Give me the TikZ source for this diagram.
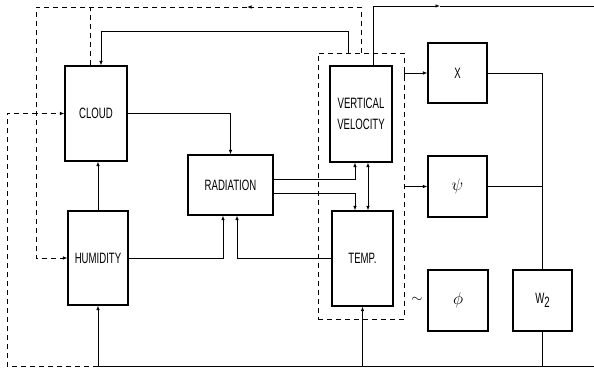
\documentclass[tikz,border=0pt]{standalone}
\usepackage{fontspec}
\newfontfamily\labelfont[FakeStretch=0.64]{Liberation Sans}
\usetikzlibrary{arrows.meta}

\begin{document}
\begin{tikzpicture}[x=1pt,y=-1pt,>={Latex[length=4.5pt,width=3.5pt]},
  blk/.style={draw,line width=1.1pt,inner sep=0pt,align=center,
    font=\labelfont\fontsize{15}{21}\selectfont},
  link/.style={line width=0.8pt},
  fbk/.style={line width=0.8pt,dash pattern=on 5pt off 4pt}]
 \useasboundingbox (0,0) rectangle (594,370);
 \node[blk,minimum width=62pt,minimum height=95pt] (cloud) at (96,113.5) {CLOUD};
 \node[blk,minimum width=60pt,minimum height=94pt] (humid) at (98,258) {HUMIDITY};
 \node[blk,minimum width=85pt,minimum height=60pt] (rad) at (230.5,185) {RADIATION};
 \node[blk,minimum width=62pt,minimum height=96pt] (vv) at (361,114) {VERTICAL\\VELOCITY};
 \node[blk,minimum width=61pt,minimum height=95pt] (temp) at (362.5,258.5) {TEMP.};
 \node[fbk,draw,inner sep=0pt,minimum width=86pt,minimum height=266pt] (grp) at (361,186) {};
 \node[blk,minimum width=59pt,minimum height=60pt] (chi) at (457.5,73) {X};
 \node[blk,minimum width=59pt,minimum height=61pt,font=\fontsize{17}{17}\selectfont] (psi) at (457.5,186.5) {$\psi$};
 \node[blk,minimum width=60pt,minimum height=61pt,font=\fontsize{17}{17}\selectfont] (phi) at (458,300.5) {$\phi$};
 \node[blk,minimum width=59pt,minimum height=61pt] (wtwo) at (542.5,300.5) {W\raisebox{-4pt}{2}};
 \node[font=\Large] (tilde) at (417,300) {$\sim$};
 \coordinate (tr) at (594,6);
 \coordinate (smid) at (440,6);
 \coordinate (br) at (594,366);
 \coordinate (dtl) at (36,7);
 \coordinate (dmid) at (247,7);
 \coordinate (dbl) at (7,366);
 \coordinate (hb) at (humid.south |- br);
 \draw[link,->] (cloud.east) -| (rad.north);
 \draw[link,->] (humid.north) -- (humid.north |- cloud.south);
 \draw[link,->] (humid.east) -| ([xshift=-7.5pt]rad.south);
 \draw[link,->] (temp.west) -| ([xshift=6.5pt]rad.south);
 \draw[link,->] ([yshift=6pt]rad.east) -| ([xshift=-6pt]vv.south);
 \draw[link,->] ([yshift=-8pt]rad.east) -| ([xshift=-7.5pt]temp.north);
 \draw[link,<->] ([xshift=7pt]vv.south) -- ([xshift=7pt]vv.south |- temp.north);
 \draw[link,->] ([xshift=12pt]vv.north) |- (smid);
 \draw[link] (smid) -- (tr);
 \draw[link,->] ([xshift=-13pt]grp.north) -- ++(0,-21) -| ([xshift=5pt]cloud.north);
 \draw[fbk,->] (grp.north) |- (dmid);
 \draw[fbk,->] (dmid) -- (dtl) |- (humid.west);
 \draw[fbk] ([xshift=-6pt]cloud.north) -- ([xshift=-6pt]cloud.north |- dtl);
 \draw[fbk,->] (hb) -- (dbl) |- (cloud.west);
 \draw[link] (hb) -- (br);
 \draw[link,->] (hb) -- (humid.south);
 \draw[link,->] (temp.south |- br) -- (temp.south);
 \draw[link] (wtwo.south) -- (wtwo.south |- br);
 \draw[link,{Bar[width=5pt]}->] (grp.east |- chi.west) -- (chi.west);
 \draw[link,{Bar[width=5pt]}->] (grp.east |- psi.west) -- (psi.west);
 \draw[link] (chi.east) -| (wtwo.north);
 \draw[link] (psi.east) -- (wtwo.north |- psi.east);
\end{tikzpicture}
\end{document}
